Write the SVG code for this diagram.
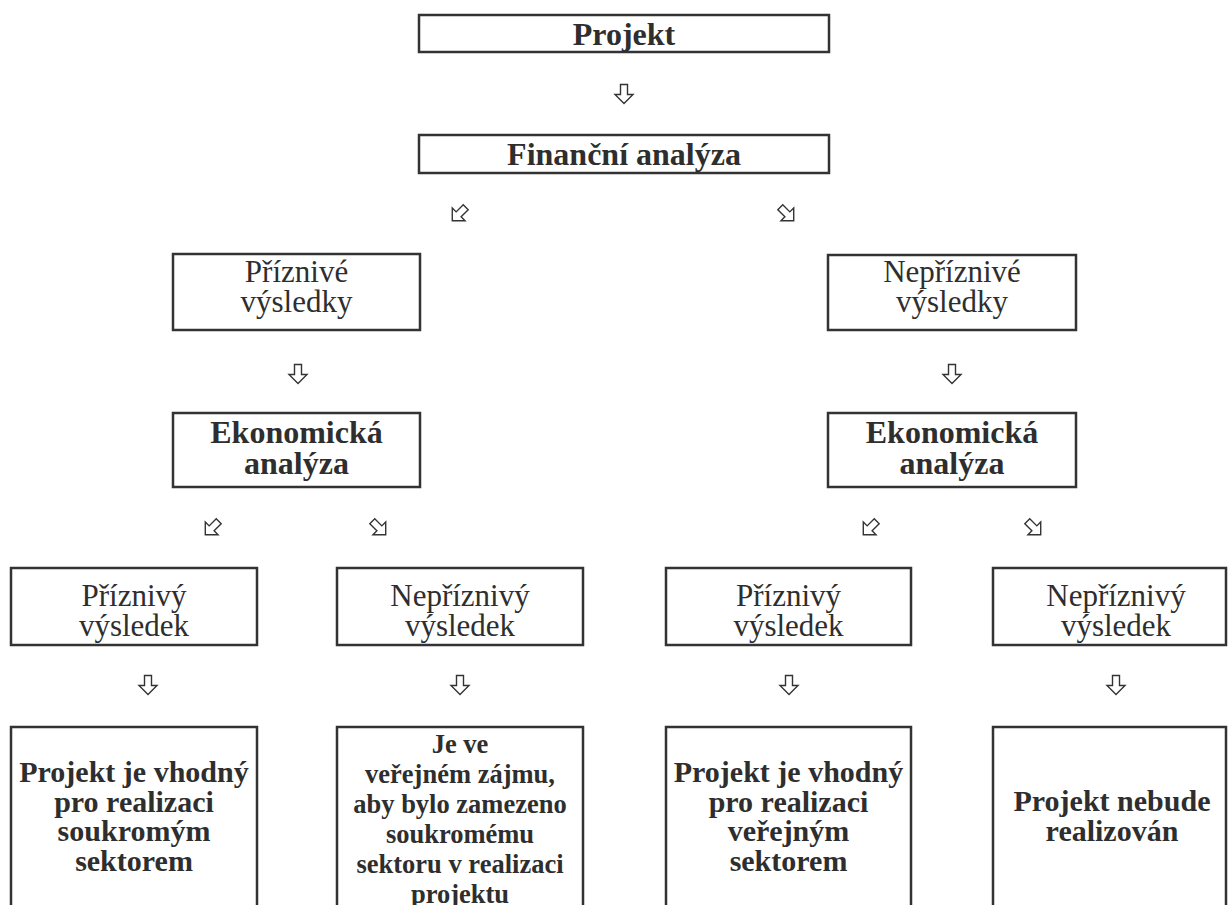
<svg xmlns="http://www.w3.org/2000/svg" width="1228" height="905" viewBox="0 0 1228 905">
  <defs>
    <style>
      .box { fill: #ffffff; stroke: #333333; stroke-width: 2.5; }
      .t { font-family: "Liberation Serif", "Times New Roman", serif; fill: #2e2e2e; text-anchor: middle; }
      .reg { font-size: 31px; }
      .big { font-size: 32px; font-weight: bold; }
      .bold { font-size: 30px; font-weight: bold; }
      .small { font-size: 26.5px; font-weight: bold; }
      .arr { fill: #ffffff; stroke: #333333; stroke-width: 1.4; stroke-linejoin: miter; }
    </style>
    <!-- hollow block arrow pointing down, centred on its origin -->
    <path id="down" d="M -3.5 -9.5 L 3.5 -9.5 L 3.5 0.5 L 9 0.5 L 0 9.5 L -9 0.5 L -3.5 0.5 Z"/>
  </defs>
  <rect width="1228" height="905" fill="#ffffff"/>

  <!-- connectors -->
  <g id="connectors" class="arr">
    <use href="#down" transform="translate(624,94)"/>
    <use href="#down" transform="translate(459,214) rotate(45)"/>
    <use href="#down" transform="translate(787,214) rotate(-45)"/>
    <use href="#down" transform="translate(298,374)"/>
    <use href="#down" transform="translate(952,374)"/>
    <use href="#down" transform="translate(212,528) rotate(45)"/>
    <use href="#down" transform="translate(379,528) rotate(-45)"/>
    <use href="#down" transform="translate(870,528) rotate(45)"/>
    <use href="#down" transform="translate(1034,528) rotate(-45)"/>
    <use href="#down" transform="translate(148,685)"/>
    <use href="#down" transform="translate(460,685)"/>
    <use href="#down" transform="translate(789,685)"/>
    <use href="#down" transform="translate(1116,685)"/>
  </g>

  <g id="projekt">
    <rect class="box" x="419" y="15" width="410" height="37"/>
    <text class="t big" x="624" y="45">Projekt</text>
  </g>

  <g id="financni-analyza">
    <rect class="box" x="419" y="135" width="410" height="38"/>
    <text class="t big" x="624" y="165">Finanční analýza</text>
  </g>

  <g id="priznive-vysledky">
    <rect class="box" x="173" y="254" width="247" height="76"/>
    <text class="t reg" x="296.5" y="282">Příznivé</text>
    <text class="t reg" x="296.5" y="312">výsledky</text>
  </g>

  <g id="nepriznive-vysledky">
    <rect class="box" x="828" y="255" width="248" height="75"/>
    <text class="t reg" x="952" y="282">Nepříznivé</text>
    <text class="t reg" x="952" y="312">výsledky</text>
  </g>

  <g id="ekonomicka-analyza-1">
    <rect class="box" x="173" y="413" width="247" height="74"/>
    <text class="t big" x="296.5" y="443">Ekonomická</text>
    <text class="t big" x="296.5" y="474">analýza</text>
  </g>

  <g id="ekonomicka-analyza-2">
    <rect class="box" x="828" y="413" width="248" height="74"/>
    <text class="t big" x="952" y="443">Ekonomická</text>
    <text class="t big" x="952" y="474">analýza</text>
  </g>

  <g id="priznivy-vysledek-1">
    <rect class="box" x="11" y="568" width="246" height="77"/>
    <text class="t reg" x="134" y="606">Příznivý</text>
    <text class="t reg" x="134" y="636">výsledek</text>
  </g>

  <g id="nepriznivy-vysledek-1">
    <rect class="box" x="337" y="568" width="246" height="77"/>
    <text class="t reg" x="460" y="606">Nepříznivý</text>
    <text class="t reg" x="460" y="636">výsledek</text>
  </g>

  <g id="priznivy-vysledek-2">
    <rect class="box" x="666" y="568" width="245" height="77"/>
    <text class="t reg" x="788.5" y="606">Příznivý</text>
    <text class="t reg" x="788.5" y="636">výsledek</text>
  </g>

  <g id="nepriznivy-vysledek-2">
    <rect class="box" x="993" y="568" width="233" height="77"/>
    <text class="t reg" x="1116" y="606">Nepříznivý</text>
    <text class="t reg" x="1116" y="636">výsledek</text>
  </g>

  <!-- outcome boxes run past the lower edge -->
  <g id="soukromy-sektor">
    <rect class="box" x="11" y="727" width="246" height="200"/>
    <text class="t bold" x="134" y="782">Projekt je vhodný</text>
    <text class="t bold" x="134" y="812">pro realizaci</text>
    <text class="t bold" x="134" y="841">soukromým</text>
    <text class="t bold" x="134" y="871">sektorem</text>
  </g>

  <g id="verejny-zajem">
    <rect class="box" x="337" y="727" width="246" height="200"/>
    <text class="t small" x="460" y="753">Je ve</text>
    <text class="t small" x="460" y="783">veřejném zájmu,</text>
    <text class="t small" x="460" y="813">aby bylo zamezeno</text>
    <text class="t small" x="460" y="843">soukromému</text>
    <text class="t small" x="460" y="873">sektoru v realizaci</text>
    <text class="t small" x="460" y="903">projektu</text>
  </g>

  <g id="verejny-sektor">
    <rect class="box" x="666" y="727" width="245" height="200"/>
    <text class="t bold" x="788.5" y="782">Projekt je vhodný</text>
    <text class="t bold" x="788.5" y="812">pro realizaci</text>
    <text class="t bold" x="788.5" y="841">veřejným</text>
    <text class="t bold" x="788.5" y="871">sektorem</text>
  </g>

  <g id="nebude-realizovan">
    <rect class="box" x="993" y="727" width="233" height="200"/>
    <text class="t bold" x="1112" y="811">Projekt nebude</text>
    <text class="t bold" x="1112" y="841">realizován</text>
  </g>
</svg>
